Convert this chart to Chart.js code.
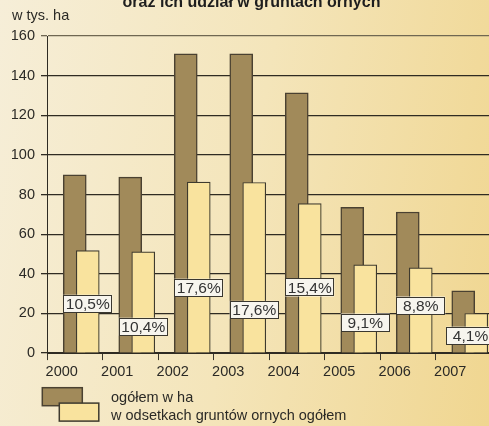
<!DOCTYPE html>
<html>
<head>
<meta charset="utf-8">
<script src="https://cdn.jsdelivr.net/npm/chart.js@4.4.0/dist/chart.umd.min.js"></script>
<style>
  html, body { margin: 0; padding: 0; width: 489px; height: 426px; overflow: hidden; }
  body { position: relative; background: linear-gradient(100deg, #f6eed8 0%, #f4e5ba 50%, #f0d690 100%); }
  #wrap { position: absolute; left: 0; top: -14px; width: 491px; height: 440px; }
</style>
</head>
<body>
<div id="wrap"><canvas id="chart" width="491" height="440"></canvas></div>
<script>
const years = ['2000', '2001', '2002', '2003', '2004', '2005', '2006', '2007'];
const totalArea = [90.0, 88.8, 151.0, 151.0, 131.3, 73.5, 71.2, 31.4];
const shareBars = [51.7, 51.1, 86.3, 86.1, 75.4, 44.5, 43.0, 20.0];
const shareLabels = ['10,5%', '10,4%', '17,6%', '17,6%', '15,4%', '9,1%', '8,8%', '4,1%'];
const tagLevels = [24.9, 13.3, 33.0, 21.8, 33.1, 15.4, 24.0, 8.8];
const seriesNames = ['ogółem w ha', 'w odsetkach gruntów ornych ogółem'];

const FONT = '"Liberation Sans", Arial, sans-serif';
const INK = '#2b2a26';

// percentage tags sitting on the light bars
const percentTags = {
    id: 'percentTags',
    afterDatasetsDraw(chart) {
        const ctx = chart.ctx;
        const meta = chart.getDatasetMeta(1);
        const y = chart.scales.y;
        ctx.save();
        ctx.font = '15.5px ' + FONT;
        ctx.textAlign = 'center';
        ctx.textBaseline = 'middle';
        meta.data.forEach((bar, i) => {
            const w = Math.max(49, ctx.measureText(shareLabels[i]).width + 5);
            const h = 18;
            const left = Math.min(bar.x - w / 2, chart.chartArea.right + 4 - w);
            const top = y.getPixelForValue(tagLevels[i]) - h / 2;
            ctx.fillStyle = '#f7f5ee';
            ctx.fillRect(left, top, w, h);
            ctx.strokeStyle = '#3a372f';
            ctx.lineWidth = 1;
            ctx.strokeRect(Math.round(left) + 0.5, Math.round(top) + 0.5, w - 1, h - 1);
            ctx.fillStyle = '#333';
            ctx.fillText(shareLabels[i], left + w / 2, top + h / 2 + 1);
        });
        ctx.restore();
    }
};

// legend with the two overlapping swatches
const boxLegend = {
    id: 'boxLegend',
    afterDraw(chart) {
        const ctx = chart.ctx;
        const a = chart.chartArea;
        const ds = chart.data.datasets;
        const x0 = a.left - 4.7, y0 = a.bottom + 34.6;
        ctx.save();
        ctx.lineWidth = 1.5;
        ctx.fillStyle = ds[0].backgroundColor;
        ctx.strokeStyle = ds[0].borderColor;
        ctx.fillRect(x0, y0, 40, 18);
        ctx.strokeRect(x0, y0, 40, 18);
        ctx.fillStyle = ds[1].backgroundColor;
        ctx.strokeStyle = ds[1].borderColor;
        ctx.fillRect(x0 + 17, y0 + 15.4, 39.5, 18);
        ctx.strokeRect(x0 + 17, y0 + 15.4, 39.5, 18);
        ctx.fillStyle = INK;
        ctx.font = '14.5px ' + FONT;
        ctx.textBaseline = 'middle';
        ctx.fillText(ds[0].label, x0 + 68.7, y0 + 10.7);
        ctx.fillText(ds[1].label, x0 + 68.7, y0 + 28.7);
        ctx.restore();
    }
};

new Chart(document.getElementById('chart'), {
    type: 'bar',
    data: {
        labels: years,
        datasets: [{
            label: seriesNames[0],
            data: totalArea,
            backgroundColor: '#a18a5a',
            borderColor: '#4a4131',
            borderWidth: 1.5,
            barThickness: 23,
            grouped: false,
            order: 1,
            xAxisID: 'x'
        }, {
            label: seriesNames[1],
            data: shareBars,
            backgroundColor: '#f9e39e',
            borderColor: '#3e3a2e',
            borderWidth: 1.2,
            barThickness: 23,
            grouped: false,
            order: 0,
            xAxisID: 'x2'
        }]
    },
    options: {
        responsive: false,
        animation: false,
        layout: { padding: { left: 12, right: 0, top: 0, bottom: 41.3 } },
        plugins: {
            legend: { display: false },
            tooltip: { enabled: false },
            title: {
                display: true,
                text: 'oraz ich udział w gruntach ornych',
                color: '#1e1e1e',
                font: { family: FONT, size: 16, weight: 'bold', lineHeight: 0.8 },
                padding: { top: 10.6, bottom: 0 }
            },
            subtitle: {
                display: true,
                text: 'w tys. ha',
                align: 'start',
                color: INK,
                font: { family: FONT, size: 14.5, lineHeight: 0.8 },
                padding: { top: 0.5, bottom: 14.5 }
            }
        },
        scales: {
            x: {
                offset: true,
                grid: { offset: true, drawOnChartArea: false, tickLength: 7, color: '#3a362c' },
                border: { color: '#2e2b23', width: 1 },
                ticks: { color: INK, font: { family: FONT, size: 14.5 }, padding: 3.6, labelOffset: -13, maxRotation: 0, autoSkip: false }
            },
            x2: {
                type: 'linear',
                display: false,
                offset: false,
                min: 1999.2658,
                max: 2007.2658
            },
            y: {
                min: 0,
                max: 160,
                ticks: { stepSize: 20, color: INK, font: { family: FONT, size: 14.5 }, padding: 6 },
                grid: {
                    tickLength: 6,
                    lineWidth: 1.3,
                    color: c => (c.tick && c.tick.value === 160) ? '#6f6752' : '#2f2b22'
                },
                border: { color: '#2e2b23', width: 1 },
                afterFit: s => { s.width = 35; }
            }
        }
    },
    plugins: [percentTags, boxLegend]
});
</script>
</body>
</html>
